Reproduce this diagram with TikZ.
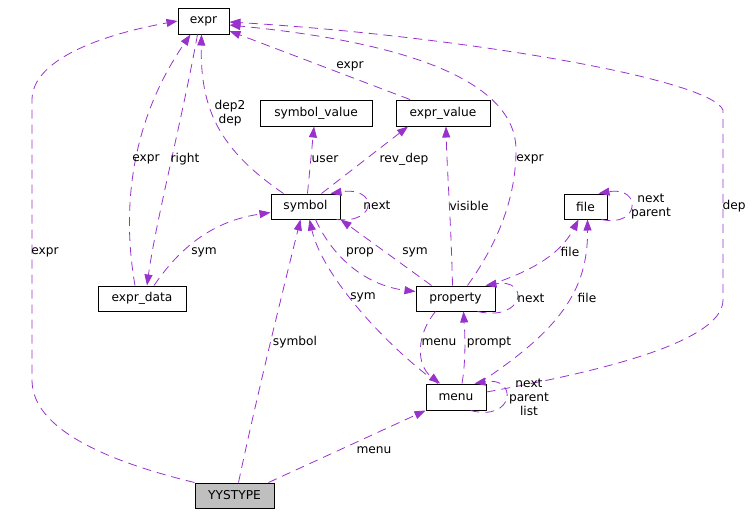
\documentclass[tikz,border=0pt]{standalone}
\usepackage{fontspec}
\setmainfont{DejaVu Sans}
\usetikzlibrary{arrows.meta}
\definecolor{linkpurple}{RGB}{153,50,204}
\definecolor{rootgray}{RGB}{191,191,191}
\tikzset{
  cls/.style={rectangle, draw=black, line width=1pt, fill=white, minimum height=25pt,
              inner sep=0pt, font=\fontsize{12.2}{14}\selectfont},
  clsroot/.style={cls, fill=rootgray},
  link/.style={draw=linkpurple, line width=0.8pt, dash pattern=on 9pt off 6pt,
               -{Triangle[length=11pt,width=8pt]}},
  lbl/.style={font=\fontsize{12.2}{14}\selectfont, align=center, inner sep=0pt},
}
\begin{document}
\begin{tikzpicture}[x=1pt,y=-1pt]
\useasboundingbox (0,0) rectangle (755,515);
\node[cls, minimum width=51pt, minimum height=26pt] (expr) at (203.5,21) {expr};
\node[cls, minimum width=112pt, minimum height=26pt] (symval) at (316,113) {symbol\_value};
\node[cls, minimum width=94pt, minimum height=26pt] (exprval) at (443,113) {expr\_value};
\node[cls, minimum width=69pt] (sym) at (305.5,206.5) {symbol};
\node[cls, minimum width=43pt] (file) at (585.5,206.5) {file};
\node[cls, minimum width=88pt] (exprdata) at (142,298.5) {expr\_data};
\node[cls, minimum width=79pt] (prop) at (455.5,298.5) {property};
\node[cls, minimum width=60pt, minimum height=26pt] (menu) at (456,397) {menu};
\node[clsroot, minimum width=79pt] (yy) at (234.5,495.5) {YYSTYPE};

\draw[link] (yy.north west) .. controls (110,462) and (32,430) .. (32,380) -- (32,100)
  .. controls (32,60) and (100,35) .. (expr.west);
\draw[link] ([xshift=4pt]yy.north) .. controls (258,390) and (288,270) .. ([xshift=-5pt]sym.south);
\draw[link] ([xshift=34pt]yy.north) -- (menu.south west);
\draw[link] ([xshift=-7pt]exprdata.north) .. controls (120,200) and (135,115) .. ([xshift=-13pt]expr.south);
\draw[link] ([xshift=-6pt]expr.south) .. controls (182,120) and (156,220) .. ([xshift=5pt]exprdata.north);
\draw[link] ([xshift=12pt]exprdata.north) .. controls (185,240) and (220,220) .. ([yshift=-6pt]sym.west);
\draw[link] ([xshift=-22pt]sym.north) .. controls (220,150) and (200,110) .. ([xshift=-2pt]expr.south);
\draw[link] ([xshift=2pt]sym.north) -- ([xshift=-2pt]symval.south);
\draw[link] ([xshift=16pt]sym.north) -- ([xshift=-35pt]exprval.south);
\draw[link] ([xshift=-4pt]sym.south east) .. controls (378,224) and (378,186) .. ([xshift=-10pt]sym.north east);
\draw[link] ([xshift=10pt]sym.south) .. controls (335,262) and (370,286) .. ([yshift=7pt]prop.west);
\draw[link] ([xshift=-24pt]prop.north) -- (sym.south east);
\draw[link] ([xshift=-18pt]menu.north) .. controls (385,345) and (322,275) .. ([xshift=4pt]sym.south);
\draw[link] ([xshift=-3pt]prop.north) .. controls (451,220) and (447,170) .. ([xshift=3pt]exprval.south);
\draw[link] ([xshift=12pt]prop.north) .. controls (500,240) and (516,195) .. (516,150)
  .. controls (516,60) and (330,35) .. ([yshift=-4pt]expr.east);
\draw[link] ([xshift=-33pt]exprval.north) -- ([yshift=-10pt]expr.east);
\draw[link] ([yshift=5pt]menu.east) .. controls (580,375) and (723,345) .. (723,300) -- (723,110)
  .. controls (710,78) and (450,35) .. ([yshift=-1pt]expr.east);
\draw[link] ([xshift=-8pt]prop.north east) .. controls (530,272) and (560,255) .. ([xshift=-7pt]file.south);
\draw[link] ([xshift=-6pt]file.south east) .. controls (640,228) and (642,186) .. ([xshift=-9pt]file.north east);
\draw[link] ([xshift=-18pt]prop.south east) .. controls (525,322) and (530,278) .. ([xshift=-10pt]prop.north east);
\draw[link] ([xshift=-20pt]prop.south) .. controls (416,335) and (416,365) .. ([xshift=-16pt]menu.north);
\draw[link] ([xshift=6pt]menu.north) .. controls (466,360) and (465,335) .. ([xshift=8pt]prop.south);
\draw[link] ([xshift=-8pt]menu.north east) .. controls (560,330) and (588,290) .. ([xshift=2pt]file.south);
\draw[link] ([xshift=-16pt]menu.south east) .. controls (515,422) and (518,376) .. ([xshift=-12pt]menu.north east);

\node[lbl] (lyyexpr) at (45,252) {expr};
\node[lbl] (lyysym) at (295,342) {symbol};
\node[lbl] (lyymenu) at (374,450) {menu};
\node[lbl] (ldataexpr) at (146,159) {expr};
\node[lbl] (lright) at (185,159) {right};
\node[lbl] (ldatasym) at (204,252) {sym};
\node[lbl] (ldep) at (230,113) {dep2\\dep};
\node[lbl] (luser) at (325,159) {user};
\node[lbl] (lrevdep) at (404,159) {rev\_dep};
\node[lbl] (lsymnext) at (377,205) {next};
\node[lbl] (lprop) at (360,252) {prop};
\node[lbl] (lpropsym) at (415,252) {sym};
\node[lbl] (lmenusym) at (363,297) {sym};
\node[lbl] (lvisible) at (469,206) {visible};
\node[lbl] (lpropexpr) at (530,159) {expr};
\node[lbl] (lvalexpr) at (350,66) {expr};
\node[lbl] (lmenudep) at (734,206) {dep};
\node[lbl] (lpropfile) at (570,252) {file};
\node[lbl] (lfilenext) at (651,206) {next\\parent};
\node[lbl] (lpropnext) at (531,298) {next};
\node[lbl] (lpropmenu) at (439,342) {menu};
\node[lbl] (lprompt) at (489,342) {prompt};
\node[lbl] (lmenufile) at (587,298) {file};
\node[lbl] (lmenunext) at (529,397) {next\\parent\\list};
\end{tikzpicture}
\end{document}
